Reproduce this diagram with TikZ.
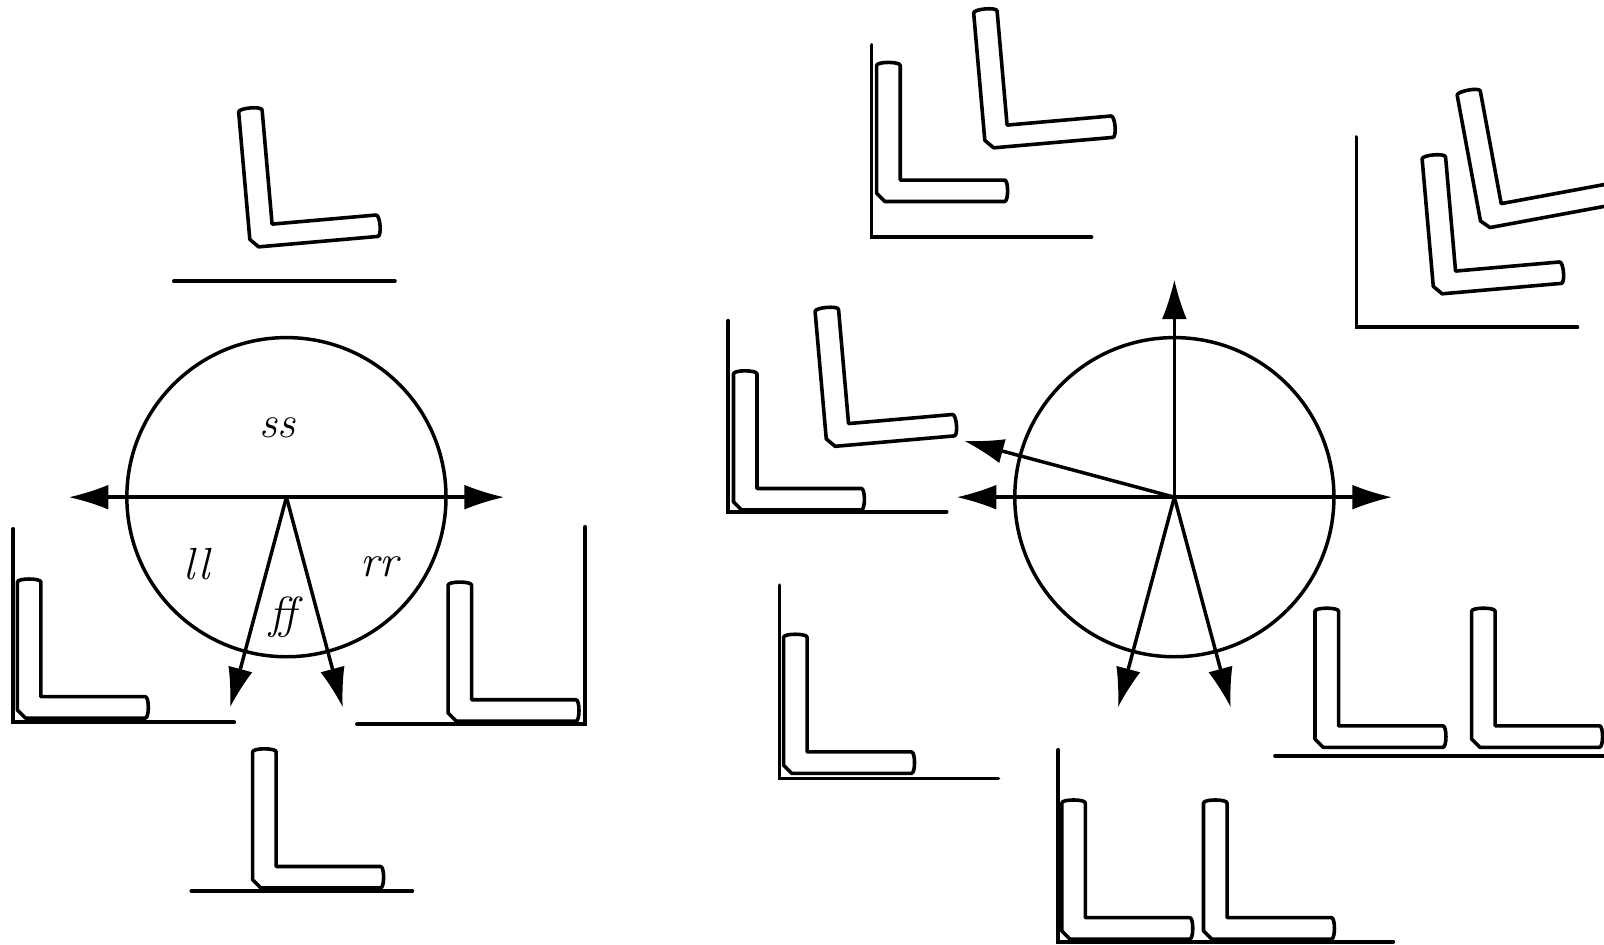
\documentclass[tikz,border=0pt]{standalone}
\usepackage{fontspec}
\usetikzlibrary{arrows.meta}
\pgfdeclarearrow{
  name = Spear,
  parameters = {\the\pgfarrowlength,\the\pgfarrowwidth},
  setup code = {
    \pgfarrowssettipend{0pt}
    \pgfarrowssetlineend{-.6\pgfarrowlength}
    \pgfarrowssetbackend{-\pgfarrowlength}
    \pgfarrowshullpoint{0pt}{0pt}
    \pgfarrowsupperhullpoint{-\pgfarrowlength}{.5\pgfarrowwidth}
    \pgfarrowssavethe\pgfarrowlength
    \pgfarrowssavethe\pgfarrowwidth
  },
  drawing code = {
    \pgfpathmoveto{\pgfpointorigin}
    \pgfpathcurveto{\pgfpoint{-.35\pgfarrowlength}{.13\pgfarrowwidth}}{\pgfpoint{-.7\pgfarrowlength}{.3\pgfarrowwidth}}{\pgfpoint{-\pgfarrowlength}{.5\pgfarrowwidth}}
    \pgfpathlineto{\pgfpoint{-\pgfarrowlength}{-.5\pgfarrowwidth}}
    \pgfpathcurveto{\pgfpoint{-.7\pgfarrowlength}{-.3\pgfarrowwidth}}{\pgfpoint{-.35\pgfarrowlength}{-.13\pgfarrowwidth}}{\pgfpointorigin}
    \pgfpathclose
    \pgfusepathqfill
  },
  defaults = {length = 19pt, width = 12pt}
}
\tikzset{
  ln/.style={line width=1.7pt},
  wall/.style={line width=1.85pt, line cap=round, line join=miter},
  lbody/.style={line width=1.75pt, line join=round, fill=white},
  arr/.style={ln, -{Spear}},
  dbl/.style={ln, {Spear}-{Spear}},
  ring/.style={draw, circle, ln, minimum size=156pt, inner sep=0pt},
  lab/.style={font=\fontsize{22}{26}\selectfont\itshape, inner sep=0pt},
  Lshape/.pic={
    \draw[lbody] (8,0) -- (125,0) .. controls (129,0) and (129,-21) .. (125,-21)
      -- (23,-21) -- (23,-133) .. controls (23,-137) and (0,-137) .. (0,-133)
      -- (0,-8) -- cycle;
  }
}
\begin{document}
\begin{tikzpicture}[x=0.5pt, y=-0.5pt]
\useasboundingbox (0,0) rectangle (1568,923);

% ---------------- left diagram ----------------
\coordinate (C1) at (280,486);
\node[ring] (K1) at (C1) {};
\coordinate (L1w) at (68,486);
\coordinate (L1e) at (492,486);
\coordinate (L1a) at (225.1,690.8);
\coordinate (L1b) at (334.9,690.8);
\draw[dbl] (L1w) -- (L1e);
\draw[arr] (C1) -- (L1a);
\draw[arr] (C1) -- (L1b);
\node[lab] (ss) at (271,418) {ss};
\node[lab] (ll) at (192,551) {ll};
\node[lab] (rr) at (371,554) {rr};
\node[lab] (ff) at (277,603) {ff};

% top
\draw[wall] (170,275) -- (386,275);
\pic[rotate=5] at (244.9,242) {Lshape};
% left
\draw[wall] (13,517) -- (13,706) -- (229,706);
\pic at (17,702) {Lshape};
% right
\draw[wall] (349,708) -- (572,708) -- (572,515);
\pic at (438,705) {Lshape};
% bottom
\draw[wall] (187,871) -- (403,871);
\pic at (247,868) {Lshape};

% ---------------- right diagram ----------------
\coordinate (C2) at (1148,486);
\node[ring] (K2) at (C2) {};
\coordinate (R2w) at (936,486);
\coordinate (R2e) at (1360,486);
\coordinate (R2n) at (1148,274);
\coordinate (R2nw) at (943.2,431.1);
\coordinate (R2a) at (1093.1,690.8);
\coordinate (R2b) at (1202.9,690.8);
\draw[dbl] (R2w) -- (R2e);
\draw[arr] (C2) -- (R2n);
\draw[arr] (C2) -- (R2nw);
\draw[arr] (C2) -- (R2a);
\draw[arr] (C2) -- (R2b);

% group a (top centre)
\draw[wall] (852,44) -- (852,232) -- (1067,232);
\pic at (857,197) {Lshape};
\pic[rotate=5] at (963.4,145.2) {Lshape};
% group b (top right)
\draw[wall] (1326,134) -- (1326,320) -- (1542,320);
\pic[rotate=5] at (1401.8,287.9) {Lshape};
\pic[rotate=10.5] at (1448.7,223.9) {Lshape};
% group c (left middle)
\draw[wall] (712,313.5) -- (712,500.2) -- (925.4,500.2);
\pic at (717,498.5) {Lshape};
\pic[rotate=5] at (808.4,437) {Lshape};
% group d (lower left)
\draw[wall] (762,572) -- (762,761) -- (976,761);
\pic at (766,756) {Lshape};
% group e (bottom centre)
\draw[wall] (1034.6,733) -- (1034.6,920.5) -- (1362,920.5);
\pic at (1038,918) {Lshape};
\pic at (1176.5,918) {Lshape};
% group f (lower right)
\draw[wall] (1246.4,738.7) -- (1575,738.7);
\pic at (1285.5,730.5) {Lshape};
\pic at (1438.6,730.5) {Lshape};
\end{tikzpicture}
\end{document}
